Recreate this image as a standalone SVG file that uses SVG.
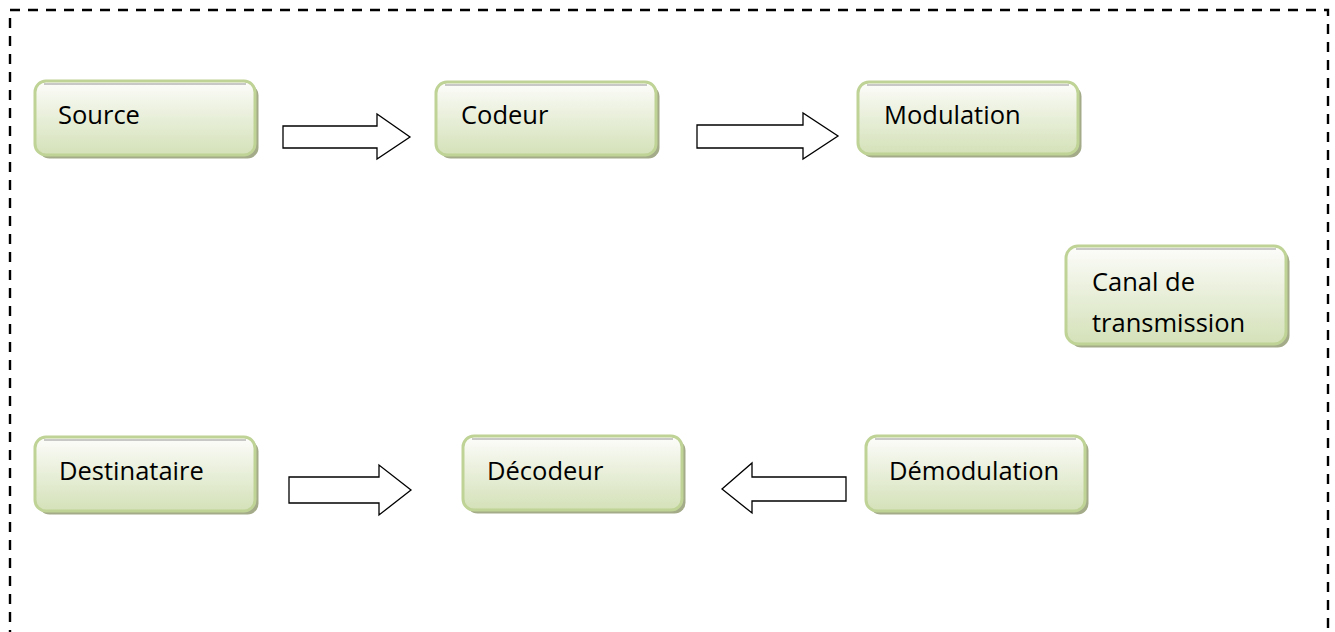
<svg xmlns="http://www.w3.org/2000/svg" width="1335" height="632" viewBox="0 0 1335 632">
  <defs>
    <linearGradient id="boxFill" x1="0" y1="0" x2="0" y2="1">
      <stop offset="0" stop-color="#fdfdfb"/>
      <stop offset="0.3" stop-color="#f0f4e6"/>
      <stop offset="1" stop-color="#d4e1b8"/>
    </linearGradient>
    <style>
      .frame { fill: none; stroke: #000; stroke-width: 2.4; stroke-dasharray: 10 8; }
      .shadow { fill: #a3ab88; }
      .box { fill: url(#boxFill); stroke: #bfd396; stroke-width: 3; }
      .rim { stroke: #555; stroke-width: 1.2; stroke-opacity: 0.6; }
      .label { font-family: "Open Sans", "Liberation Sans", sans-serif; font-size: 25.5px; fill: #000; }
      .arrow { fill: #fff; stroke: #000; stroke-width: 1.3; stroke-linejoin: miter; }
    </style>
  </defs>

  <rect width="1335" height="632" fill="#fff"/>

  <!-- dashed outer frame, open at the bottom -->
  <path class="frame" d="M10,640 V10 H1328 V640"/>

  <!-- block arrows -->
  <g id="connectors">
    <polygon class="arrow" points="283,126 377,126 377,114 410,137 377,159 377,148 283,148"/>
    <polygon class="arrow" points="697,125 803,125 803,113 838,136 803,159 803,148 697,148"/>
    <polygon class="arrow" points="289,477 379,477 379,465 411,490 379,515 379,503 289,503"/>
    <polygon class="arrow" points="846,477 752,477 752,463 722,489 752,513 752,501 846,501"/>
  </g>

  <g id="source">
    <rect class="shadow" x="38.5" y="84.5" width="220" height="74" rx="11"/>
    <rect class="box" x="35" y="81" width="220" height="74" rx="11"/>
    <line class="rim" x1="44" y1="84" x2="246" y2="84"/>
    <text class="label" x="58" y="124">Source</text>
  </g>

  <g id="codeur">
    <rect class="shadow" x="439.5" y="85.5" width="220" height="73" rx="11"/>
    <rect class="box" x="436" y="82" width="220" height="73" rx="11"/>
    <line class="rim" x1="445" y1="85" x2="647" y2="85"/>
    <text class="label" x="461" y="124">Codeur</text>
  </g>

  <g id="modulation">
    <rect class="shadow" x="861.5" y="85.5" width="220" height="72" rx="11"/>
    <rect class="box" x="858" y="82" width="220" height="72" rx="11"/>
    <line class="rim" x1="867" y1="85" x2="1069" y2="85"/>
    <text class="label" x="884" y="124">Modulation</text>
  </g>

  <g id="canal">
    <rect class="shadow" x="1069.5" y="249.5" width="220" height="98" rx="12"/>
    <rect class="box" x="1066" y="246" width="220" height="98" rx="12"/>
    <line class="rim" x1="1076" y1="249" x2="1276" y2="249"/>
    <text class="label" x="1092" y="291">Canal de</text>
    <text class="label" x="1092" y="332">transmission</text>
  </g>

  <g id="destinataire">
    <rect class="shadow" x="38.5" y="440.5" width="220" height="74" rx="11"/>
    <rect class="box" x="35" y="437" width="220" height="74" rx="11"/>
    <line class="rim" x1="44" y1="440" x2="246" y2="440"/>
    <text class="label" x="59" y="480">Destinataire</text>
  </g>

  <g id="decodeur">
    <rect class="shadow" x="466.5" y="439.5" width="219" height="74" rx="11"/>
    <rect class="box" x="463" y="436" width="219" height="74" rx="11"/>
    <line class="rim" x1="472" y1="439" x2="673" y2="439"/>
    <text class="label" x="487" y="480">Décodeur</text>
  </g>

  <g id="demodulation">
    <rect class="shadow" x="869.5" y="439.5" width="219" height="75" rx="11"/>
    <rect class="box" x="866" y="436" width="219" height="75" rx="11"/>
    <line class="rim" x1="875" y1="439" x2="1076" y2="439"/>
    <text class="label" x="889" y="480">Démodulation</text>
  </g>
</svg>
